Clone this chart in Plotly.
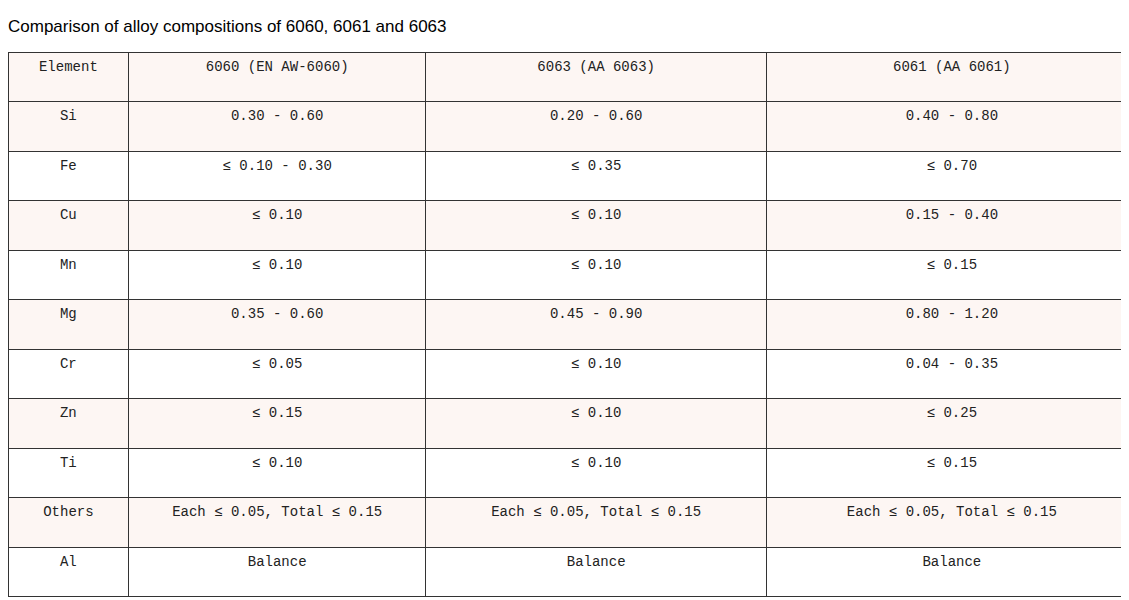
import plotly.graph_objects as go

header = ["Element", "6060 (EN AW-6060)", "6063 (AA 6063)", "6061 (AA 6061)"]
elements = ["Si", "Fe", "Cu", "Mn", "Mg", "Cr", "Zn", "Ti", "Others", "Al"]
alloy_6060 = ["0.30 - 0.60", "≤ 0.10 - 0.30", "≤ 0.10", "≤ 0.10", "0.35 - 0.60",
              "≤ 0.05", "≤ 0.15", "≤ 0.10", "Each ≤ 0.05, Total ≤ 0.15", "Balance"]
alloy_6063 = ["0.20 - 0.60", "≤ 0.35", "≤ 0.10", "≤ 0.10", "0.45 - 0.90",
              "≤ 0.10", "≤ 0.10", "≤ 0.10", "Each ≤ 0.05, Total ≤ 0.15", "Balance"]
alloy_6061 = ["0.40 - 0.80", "≤ 0.70", "0.15 - 0.40", "≤ 0.15", "0.80 - 1.20",
              "0.04 - 0.35", "≤ 0.25", "≤ 0.15", "Each ≤ 0.05, Total ≤ 0.15", "Balance"]

pink = "#fdf6f3"
row_colors = [pink if i % 2 == 0 else "white" for i in range(len(elements))]
font = dict(family="Liberation Mono, DejaVu Sans Mono, monospace", size=14, color="#222")

fig = go.Figure(go.Table(
    columnwidth=[120, 295, 339, 368],
    header=dict(values=header, fill_color=pink, line=dict(color="#333", width=1),
                align="center", font=font, height=49.5),
    cells=dict(values=[elements, alloy_6060, alloy_6063, alloy_6061],
               fill_color=[row_colors] * 4, line=dict(color="#333", width=1),
               align="center", font=font, height=49.5),
    domain=dict(x=[0, 1], y=[0, 1 - 44 / 600]),
))

fig.update_layout(
    width=1129, height=600,
    margin=dict(l=0, r=0, t=0, b=0),
    paper_bgcolor="white",
    title=dict(text="Comparison of alloy compositions of 6060, 6061 and 6063",
               x=0, xanchor="left", y=1 - 18 / 600, yanchor="middle",
               font=dict(family="Liberation Sans, Arial", size=17, color="black")),
)

fig.write_html("out.html")
